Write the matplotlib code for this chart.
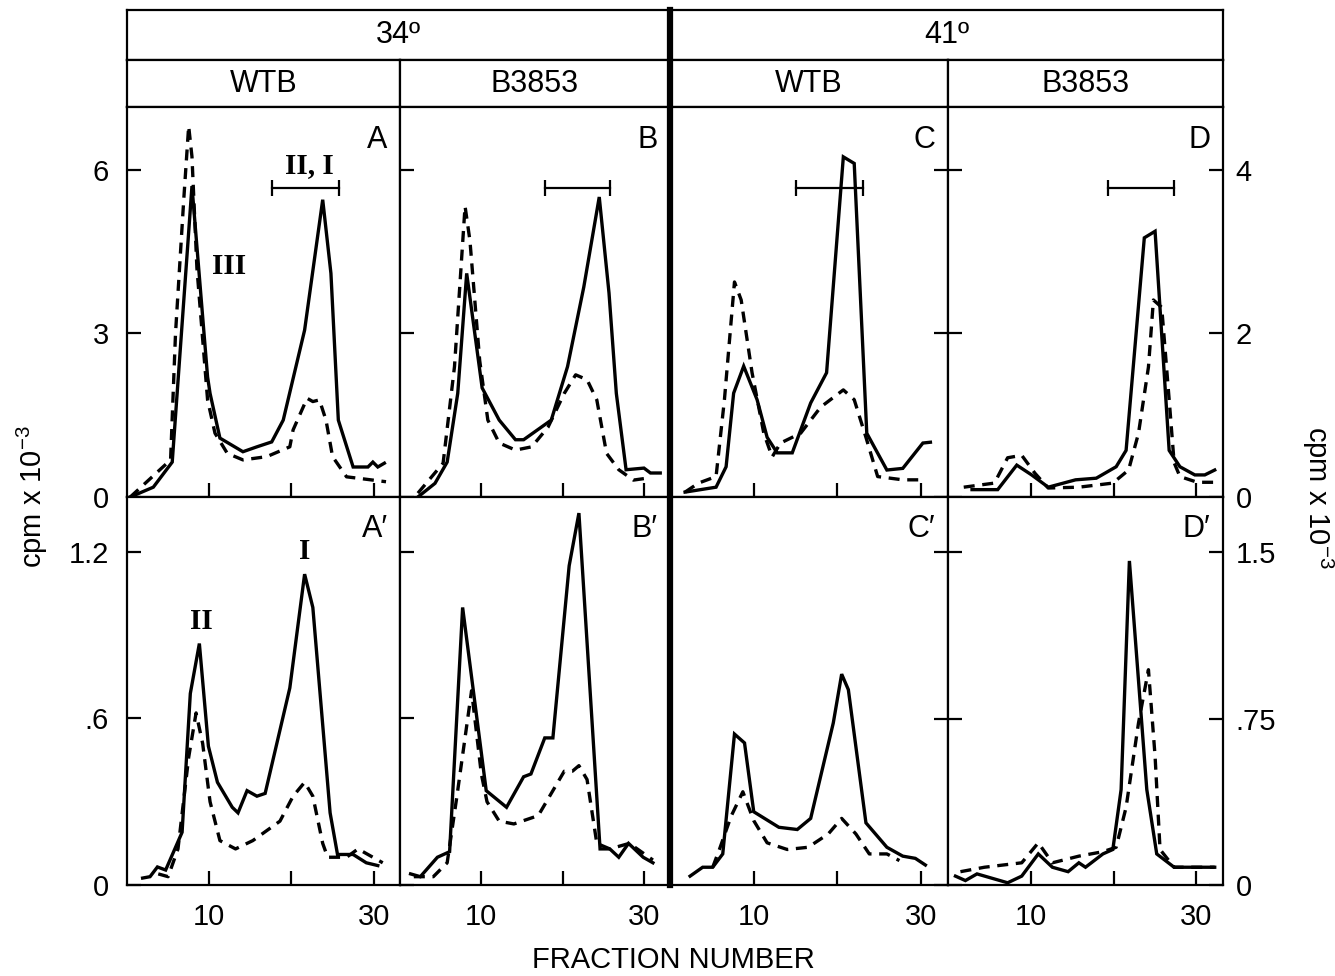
import matplotlib.pyplot as plt
from matplotlib.lines import Line2D

plt.rcParams['font.family'] = ['Liberation Sans', 'DejaVu Sans']
plt.rcParams['mathtext.fontset'] = 'custom'
plt.rcParams['mathtext.rm'] = 'Liberation Sans'
plt.rcParams['mathtext.it'] = 'Liberation Sans:italic'

W, H = 1335, 976

# ---- data (fraction number, cpm x 10^-3) ----
# 34 deg, WTB (A)
a_solid_x = [0.4, 3.2, 5.5, 7.9, 9.8, 10.1, 11.3, 14.1, 15.8, 17.6, 19.0, 21.6, 23.8, 24.8, 25.7, 27.5, 29.3, 29.9, 30.5, 31.3]
a_solid_y = [0.0, 0.18, 0.64, 5.70, 2.2, 1.9, 1.08, 0.83, 0.92, 1.01, 1.41, 3.06, 5.45, 4.1, 1.41, 0.55, 0.55, 0.64, 0.55, 0.62]
a_dash_x = [0.4, 5.3, 5.9, 6.9, 7.5, 7.9, 8.5, 9.8, 10.7, 12.2, 14.1, 17.0, 19.8, 20.2, 21.9, 22.6, 23.4, 24.2, 25.0, 26.7, 29.9, 31.5]
a_dash_y = [0.0, 0.68, 3.0, 5.45, 6.8, 6.24, 4.2, 1.78, 1.17, 0.8, 0.68, 0.74, 0.92, 1.23, 1.81, 1.75, 1.78, 1.41, 0.74, 0.37, 0.31, 0.28]

# 34 deg, B3853 (B)
b_solid_x = [2.2, 4.3, 5.8, 7.1, 8.2, 10.1, 12.2, 14.2, 15.2, 18.6, 20.6, 22.6, 24.5, 25.7, 26.6, 27.8, 30.0, 30.8, 32.0]
b_solid_y = [0.0, 0.25, 0.64, 1.9, 4.1, 2.0, 1.41, 1.05, 1.05, 1.41, 2.39, 3.85, 5.5, 3.74, 1.9, 0.5, 0.53, 0.44, 0.44]
b_dash_x = [2.2, 5.3, 6.7, 8.0, 8.6, 9.8, 10.8, 12.2, 14.2, 16.2, 18.2, 20.2, 21.6, 23.0, 24.2, 25.4, 26.9, 28.7, 30.6]
b_dash_y = [0.07, 0.62, 2.39, 5.33, 4.7, 2.5, 1.41, 0.99, 0.86, 0.92, 1.28, 1.9, 2.24, 2.15, 1.78, 0.8, 0.5, 0.31, 0.35]

# 41 deg, WTB (C)
c_solid_x = [1.8, 5.5, 6.7, 7.6, 8.8, 10.4, 11.6, 12.8, 14.6, 16.8, 18.7, 20.7, 22.0, 23.5, 25.9, 27.8, 30.2, 31.1]
c_solid_y = [0.06, 0.12, 0.37, 1.27, 1.6, 1.19, 0.73, 0.54, 0.54, 1.15, 1.52, 4.16, 4.08, 0.78, 0.33, 0.35, 0.66, 0.67]
c_dash_x = [1.8, 3.4, 5.5, 6.5, 7.7, 8.5, 9.8, 11.2, 12.2, 13.2, 15.6, 18.0, 20.7, 22.0, 23.4, 24.8, 27.8, 30.5]
c_dash_y = [0.06, 0.17, 0.25, 1.19, 2.63, 2.41, 1.52, 0.78, 0.49, 0.66, 0.78, 1.1, 1.31, 1.19, 0.73, 0.25, 0.21, 0.21]

# 41 deg, B3853 (D)
d_solid_x = [2.9, 6.0, 8.3, 10.1, 12.1, 15.4, 17.9, 20.3, 21.5, 23.7, 25.0, 26.7, 28.0, 29.8, 31.0, 32.2]
d_solid_y = [0.09, 0.09, 0.39, 0.27, 0.12, 0.21, 0.23, 0.37, 0.57, 3.17, 3.25, 0.57, 0.37, 0.27, 0.27, 0.33]
d_dash_x = [1.9, 5.6, 7.2, 8.9, 10.5, 12.1, 15.8, 19.9, 21.8, 23.0, 24.2, 24.8, 25.8, 26.7, 27.3, 28.0, 30.1, 32.2]
d_dash_y = [0.12, 0.17, 0.48, 0.51, 0.29, 0.11, 0.12, 0.17, 0.33, 0.78, 1.59, 2.41, 2.32, 1.19, 0.42, 0.25, 0.18, 0.18]

# bottom row (A' .. D')
a2_solid_x = [1.9, 2.8, 3.7, 4.7, 6.7, 7.7, 8.8, 9.9, 11.0, 12.8, 13.5, 14.6, 15.8, 16.8, 19.8, 21.6, 22.6, 24.7, 25.6, 27.5, 29.1, 30.5]
a2_solid_y = [0.025, 0.03, 0.065, 0.054, 0.19, 0.69, 0.87, 0.5, 0.37, 0.28, 0.26, 0.34, 0.32, 0.33, 0.71, 1.12, 1.0, 0.26, 0.11, 0.11, 0.08, 0.07]
a2_dash_x = [3.8, 5.0, 6.2, 7.5, 8.4, 9.2, 10.1, 11.3, 13.2, 15.3, 18.6, 20.2, 21.6, 22.6, 23.8, 24.4, 26.7, 28.1, 31.1]
a2_dash_y = [0.04, 0.03, 0.13, 0.46, 0.62, 0.51, 0.3, 0.16, 0.13, 0.16, 0.23, 0.32, 0.37, 0.32, 0.15, 0.1, 0.1, 0.13, 0.08]

b2_solid_x = [1.3, 2.5, 4.6, 6.1, 7.7, 10.6, 13.1, 15.2, 16.1, 17.8, 18.8, 20.8, 22.0, 24.6, 25.8, 26.9, 28.1, 29.9, 31.1]
b2_solid_y = [0.04, 0.03, 0.1, 0.12, 1.0, 0.34, 0.28, 0.39, 0.4, 0.53, 0.53, 1.15, 1.34, 0.13, 0.13, 0.1, 0.15, 0.1, 0.08]
b2_dash_x = [1.7, 4.1, 5.8, 7.0, 8.8, 10.0, 10.7, 12.2, 14.0, 17.0, 18.6, 20.2, 21.2, 22.0, 23.0, 24.2, 25.8, 28.2, 31.1]
b2_dash_y = [0.03, 0.03, 0.08, 0.32, 0.7, 0.4, 0.3, 0.23, 0.22, 0.25, 0.33, 0.41, 0.41, 0.43, 0.38, 0.15, 0.13, 0.15, 0.09]

c2_solid_x = [2.4, 3.9, 5.1, 6.3, 7.7, 8.9, 10.0, 13.0, 15.2, 16.8, 19.5, 20.5, 21.3, 23.4, 25.9, 27.8, 29.3, 30.5]
c2_solid_y = [0.04, 0.08, 0.08, 0.14, 0.68, 0.64, 0.33, 0.26, 0.25, 0.3, 0.73, 0.95, 0.88, 0.28, 0.17, 0.13, 0.12, 0.09]
c2_dash_x = [5.1, 5.9, 7.3, 8.7, 10.0, 11.6, 14.0, 16.5, 18.9, 20.5, 22.2, 23.8, 25.9, 27.4]
c2_dash_y = [0.08, 0.16, 0.31, 0.42, 0.29, 0.19, 0.16, 0.17, 0.23, 0.3, 0.23, 0.14, 0.14, 0.11]

d2_solid_x = [0.9, 2.1, 3.5, 7.2, 8.9, 10.9, 12.6, 14.5, 15.8, 16.6, 18.7, 19.9, 20.9, 21.9, 24.0, 25.2, 27.3, 28.9, 32.2]
d2_solid_y = [0.04, 0.02, 0.05, 0.01, 0.04, 0.14, 0.08, 0.06, 0.1, 0.08, 0.14, 0.16, 0.43, 1.46, 0.43, 0.14, 0.08, 0.08, 0.08]
d2_dash_x = [1.5, 4.4, 8.9, 10.9, 12.6, 15.8, 18.7, 20.3, 21.5, 23.0, 24.2, 25.0, 25.6, 27.3, 32.2]
d2_dash_y = [0.06, 0.08, 0.1, 0.19, 0.1, 0.13, 0.15, 0.17, 0.35, 0.73, 0.97, 0.58, 0.16, 0.08, 0.08]

temps = ['34º', '41º']
strains = ['WTB', 'B3853', 'WTB', 'B3853']
top_letters = ['A', 'B', 'C', 'D']
bottom_letters = ['A′', 'B′', 'C′', 'D′']

top_left_ticks = [0, 3, 6]
top_left_labels = ['0', '3', '6']
top_right_ticks = [0, 2, 4]
top_right_labels = ['0', '2', '4']
bot_left_ticks = [0, 0.6, 1.2]
bot_left_labels = ['0', '.6', '1.2']
bot_right_ticks = [0, 0.75, 1.5]
bot_right_labels = ['0', '.75', '1.5']
x_ticks = [10, 20, 30]
x_labels = ['10', '', '30']

# fraction ranges marked with bars in the top row
bar_x = [(17.6, 25.8), (17.8, 25.8), (15.0, 23.0), (19.3, 27.3)]
bar_y = [5.67, 5.67, 3.78, 3.78]

# ---- layout ----
cols = [127, 400, 670, 948, 1223]
rows = [107, 497, 885]


def box(x0, y0, x1, y1):
    return [x0 / W, 1 - y1 / H, (x1 - x0) / W, (y1 - y0) / H]


fig = plt.figure(figsize=(W / 100, H / 100), dpi=100)

LW_FRAME = 1.6
FS = 21


def frame(ax):
    for s in ax.spines.values():
        s.set_linewidth(LW_FRAME)


# header cells
for i, t in enumerate(temps):
    hx = fig.add_axes(box(cols[2 * i], 10, cols[2 * i + 2], 60))
    hx.set_xticks([]); hx.set_yticks([])
    frame(hx)
    hx.text(0.5, 0.5, t, ha='center', va='center', fontsize=22, transform=hx.transAxes)
for i, s in enumerate(strains):
    hx = fig.add_axes(box(cols[i], 60, cols[i + 1], 107))
    hx.set_xticks([]); hx.set_yticks([])
    frame(hx)
    hx.text(0.5, 0.5, s, ha='center', va='center', fontsize=22, transform=hx.transAxes)

top_data = [(a_solid_x, a_solid_y, a_dash_x, a_dash_y),
            (b_solid_x, b_solid_y, b_dash_x, b_dash_y),
            (c_solid_x, c_solid_y, c_dash_x, c_dash_y),
            (d_solid_x, d_solid_y, d_dash_x, d_dash_y)]
bot_data = [(a2_solid_x, a2_solid_y, a2_dash_x, a2_dash_y),
            (b2_solid_x, b2_solid_y, b2_dash_x, b2_dash_y),
            (c2_solid_x, c2_solid_y, c2_dash_x, c2_dash_y),
            (d2_solid_x, d2_solid_y, d2_dash_x, d2_dash_y)]

axes = {}
for r, (data, letters) in enumerate([(top_data, top_letters), (bot_data, bottom_letters)]):
    for c in range(4):
        ax = fig.add_axes(box(cols[c], rows[r], cols[c + 1], rows[r + 1]))
        axes[(r, c)] = ax
        sx, sy, dx, dy = data[c]
        ax.plot(sx, sy, color='black', lw=2.4, solid_joinstyle='miter')
        ax.plot(dx, dy, color='black', lw=2.4, ls=(0, (3.3, 2.3)))
        ax.set_xlim(0, 33.2)
        right = c >= 2
        if r == 0:
            ax.set_ylim(0, 4.77 if right else 7.15)
            ax.set_yticks(top_right_ticks if right else top_left_ticks)
            ax.set_yticklabels(top_right_labels if right else top_left_labels)
        else:
            ax.set_ylim(0, 1.748 if right else 1.398)
            ax.set_yticks(bot_right_ticks if right else bot_left_ticks)
            ax.set_yticklabels(bot_right_labels if right else bot_left_labels)
        ax.set_xticks(x_ticks)
        ax.set_xticklabels(x_labels)
        ax.tick_params(direction='in', length=10, width=1.6, labelsize=FS)
        ax.tick_params(axis='x', pad=13, labelbottom=(r == 1))
        if c == 3:
            ax.yaxis.set_ticks_position('both')
            ax.tick_params(axis='y', labelleft=False, labelright=True, pad=9)
        elif c == 2:
            ax.yaxis.set_ticks_position('right')
            ax.tick_params(axis='y', labelright=False)
        else:
            ax.yaxis.set_ticks_position('left')
            ax.tick_params(axis='y', labelleft=(c == 0), pad=13)
        frame(ax)
        ax.text(0.955, 0.955, letters[c], transform=ax.transAxes, ha='right',
                va='top', fontsize=22)
        if r == 0:
            x0, x1 = bar_x[c]
            ax.plot([x0, x1], [bar_y[c], bar_y[c]], color='black', lw=1.6,
                    marker='|', markersize=11, markeredgewidth=1.6)

# roman numeral annotations
serif = ['Liberation Serif', 'DejaVu Serif']
ann = dict(ha='center', va='center', fontsize=21, family=serif, fontweight='bold')
axes[(0, 0)].text(22.2, 6.07, 'II, I', **ann)
axes[(0, 0)].text(12.4, 4.22, 'III', **ann)
axes[(1, 0)].text(9.0, 0.95, 'II', **ann)
axes[(1, 0)].text(21.6, 1.20, 'I', **ann)

# thick divider between temperatures
fig.add_artist(Line2D([670 / W, 670 / W], [1 - 10 / H, 1 - 885 / H], lw=4.5, color='black'))

fig.text(673 / W, 1 - 960 / H, 'FRACTION NUMBER', ha='center', va='center', fontsize=FS)
fig.text(32 / W, 1 - 497 / H, r'cpm x 10$^{-3}$', rotation=90, ha='center', va='center', fontsize=FS)
fig.text(1318 / W, 1 - 497 / H, r'cpm x 10$^{-3}$', rotation=270, ha='center', va='center', fontsize=FS)

fig.savefig('out.png', dpi=100)
